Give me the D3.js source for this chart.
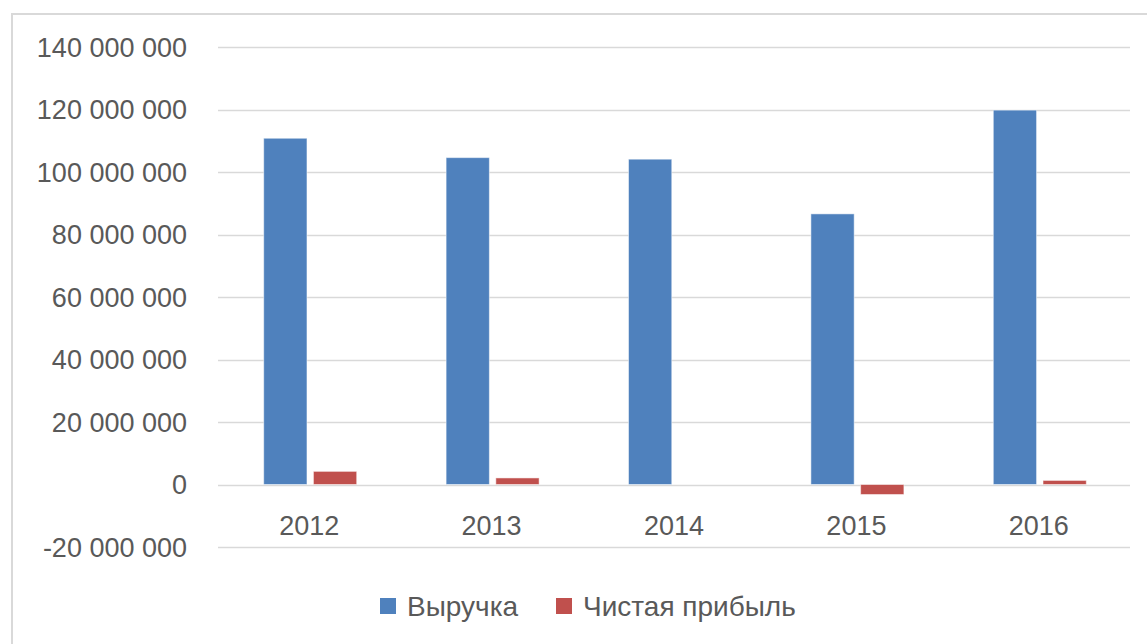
<!DOCTYPE html>
<html lang="ru">
<head>
    <meta charset="UTF-8">
    <title>Выручка и чистая прибыль</title>
    <script src="https://d3js.org/d3.v7.min.js"></script>
    <style>
        body { margin: 0; background: #fff; }
        svg { display: block; font-family: "Liberation Sans", Arial, sans-serif; }
        .tick-label { fill: #595959; font-size: 27px; }
        .legend-label { fill: #595959; font-size: 28px; }
    </style>
</head>
<body>
<script>
    // chart data
    const years = ["2012", "2013", "2014", "2015", "2016"];
    const seriesNames = ["Выручка", "Чистая прибыль"];
    const revenue = [110800000, 104600000, 104100000, 86600000, 119800000];
    const netProfit = [4200000, 2100000, 0, -3200000, 1300000];
    const yTicks = [-20000000, 0, 20000000, 40000000, 60000000, 80000000, 100000000, 120000000, 140000000];
    const colors = ["#4f81bd", "#c0504d"];

    const w = 1147, h = 644;
    const plotLeft = 218, plotRight = 1130, plotTop = 47, plotBottom = 547;

    const svg = d3.select("body").append("svg")
        .attr("width", w)
        .attr("height", h);

    // chart frame
    svg.append("rect")
        .attr("x", 12).attr("y", 14)
        .attr("width", w + 10).attr("height", h + 10)
        .attr("fill", "none")
        .attr("stroke", "#d9d9d9")
        .attr("stroke-width", 2);

    const x = d3.scaleBand().domain(years).range([plotLeft, plotRight]);
    const y = d3.scaleLinear().domain([-20000000, 140000000]).range([plotBottom, plotTop]);

    // thousands separated by spaces, plain hyphen for negatives
    const fmt = v => (v < 0 ? "-" : "") + d3.format(",")(Math.abs(v)).replace(/,/g, " ");

    // gridlines
    svg.append("g").selectAll("line")
        .data(yTicks)
        .join("line")
        .attr("x1", plotLeft).attr("x2", plotRight)
        .attr("y1", d => Math.round(y(d)) + 0.5)
        .attr("y2", d => Math.round(y(d)) + 0.5)
        .attr("stroke", "#d9d9d9")
        .attr("stroke-width", 1.5);

    // y labels
    svg.append("g").selectAll("text")
        .data(yTicks)
        .join("text")
        .attr("class", "tick-label")
        .attr("x", 187)
        .attr("y", d => y(d))
        .attr("dy", "0.36em")
        .attr("text-anchor", "end")
        .text(fmt);

    // bars
    const data = years.map((yr, i) => ({ year: yr, values: [revenue[i], netProfit[i]] }));
    const x1 = d3.scaleBand().domain([0, 1]).range([0, 93]).paddingInner(0.13);
    const groupOffset = (x.bandwidth() - 93) / 2 + 1;

    const groups = svg.append("g").selectAll("g")
        .data(data)
        .join("g")
        .attr("transform", d => `translate(${x(d.year) + groupOffset},0)`);

    groups.selectAll("rect")
        .data(d => d.values.map((v, k) => ({ v, k })).filter(d => d.v !== 0))
        .join("rect")
        .attr("x", d => x1(d.k))
        .attr("width", x1.bandwidth())
        .attr("y", d => y(Math.max(0, d.v)))
        .attr("height", d => Math.abs(y(d.v) - y(0)))
        .attr("fill", d => colors[d.k])
        .attr("stroke", "rgba(255,255,255,0.5)")
        .attr("stroke-width", 1);

    // category labels
    svg.append("g").selectAll("text")
        .data(years)
        .join("text")
        .attr("class", "tick-label")
        .attr("x", d => x(d) + x.bandwidth() / 2)
        .attr("y", 535)
        .attr("text-anchor", "middle")
        .text(d => d);

    // legend
    const legend = svg.append("g");
    const legendX = [380, 556];
    seriesNames.forEach((name, i) => {
        legend.append("rect")
            .attr("x", legendX[i]).attr("y", 598)
            .attr("width", 16).attr("height", 16)
            .attr("fill", colors[i]);
        legend.append("text")
            .attr("class", "legend-label")
            .attr("x", legendX[i] + 27)
            .attr("y", 616)
            .text(name);
    });
</script>
</body>
</html>
